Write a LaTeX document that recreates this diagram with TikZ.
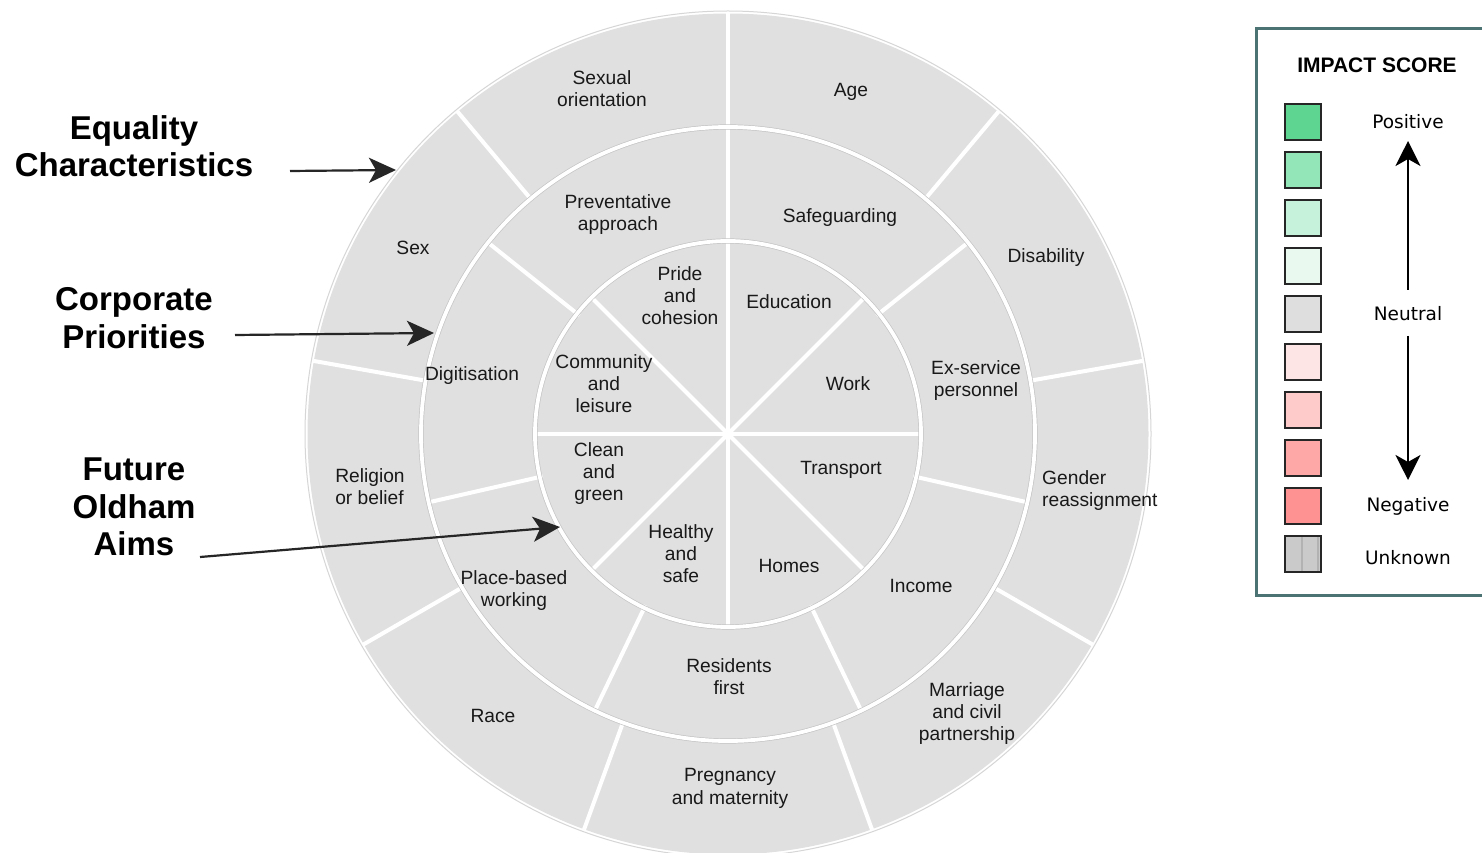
\documentclass[tikz,border=0pt]{standalone}
\usepackage{fontspec}
\setmainfont{Liberation Sans}
\newfontfamily\legendfont{DejaVu Sans}
\usetikzlibrary{arrows.meta}
\definecolor{ringgray}{HTML}{E0E0E0}
\definecolor{edgegray}{HTML}{C4C4C4}
\definecolor{boxteal}{HTML}{4B7373}
\definecolor{pos1}{HTML}{5ED590}
\definecolor{pos2}{HTML}{93E6B8}
\definecolor{pos3}{HTML}{C6F1DB}
\definecolor{pos4}{HTML}{EAF9F0}
\definecolor{neut}{HTML}{DEDEDE}
\definecolor{neg1}{HTML}{FEE5E5}
\definecolor{neg2}{HTML}{FECACA}
\definecolor{neg3}{HTML}{FEA8A8}
\definecolor{neg4}{HTML}{FE9191}
\definecolor{unk}{HTML}{CACACA}
\begin{document}
\begin{tikzpicture}[x=1pt,y=1pt,
  lbl/.style={align=center, font=\fontsize{19.2}{22.3}\selectfont, inner sep=0pt, text=black!90, yshift=-1.5pt},
  head/.style={align=center, font=\fontsize{33}{37.5}\selectfont\bfseries, inner sep=0pt},
  pointer/.style={line width=2.2pt, draw=black!85, -{Stealth[length=27pt,width=25pt,inset=7pt]}},
  legarrow/.style={line width=2.6pt, draw=black, -{Stealth[length=25pt,width=25pt,inset=7pt]}},
  divider/.style={draw=white, line width=4pt},
  ringedge/.style={draw=edgegray, line width=5.2pt},
  ringline/.style={draw=white, line width=3.8pt},
  swatch/.style={draw=black!85, line width=2.2pt, minimum size=36pt, inner sep=0pt},
  legtext/.style={font=\legendfont\fontsize{18.5}{22}\selectfont, inner sep=0pt}
]
\useasboundingbox (0,0) rectangle (1482,852);
\fill[white] (0,0) rectangle (1482,852);

% ---------- wheel ----------
\coordinate (c) at (728,418);
\draw[draw=edgegray!70, line width=1pt] (c) circle (423);
\fill[ringgray] (c) circle (420.5);

% inner dividers (8 sectors)
\foreach \a in {0,45,...,315}
  \draw[divider] (c) -- ([shift={(\a:193)}]c);
% middle ring dividers (7 sectors)
\foreach \k [evaluate=\k as \a using 90-\k*360/7] in {0,...,6}
  \draw[divider] ([shift={(\a:190)}]c) -- ([shift={(\a:309)}]c);
% outer ring dividers (9 sectors)
\foreach \k [evaluate=\k as \a using 90-40*\k] in {0,...,8}
  \draw[divider] ([shift={(\a:305)}]c) -- ([shift={(\a:421)}]c);

% ring boundaries
\draw[ringedge] (c) circle (193);
\draw[ringline] (c) circle (193);
\draw[ringedge] (c) circle (307);
\draw[ringline] (c) circle (307);

% outer ring labels
\node[lbl] (sexor) at (602,765) {Sexual\\orientation};
\node[lbl] (age) at (851,762) {Age};
\node[lbl] (disab) at (1046,596) {Disability};
\node[lbl, anchor=west, align=left] (gender) at (1042,363) {Gender\\reassignment};
\node[lbl] (marr) at (967,140) {Marriage\\and civil\\partnership};
\node[lbl] (preg) at (730,65) {Pregnancy\\and maternity};
\node[lbl] (race) at (493,138) {Race};
\node[lbl, align=left] (relig) at (370,367) {Religion\\or belief};
\node[lbl] (sex) at (413,606) {Sex};

% middle ring labels
\node[lbl] (prev) at (618,639) {Preventative\\approach};
\node[lbl] (safe) at (840,636) {Safeguarding};
\node[lbl] (exserv) at (976,473) {Ex-service\\personnel};
\node[lbl] (income) at (921,268) {Income};
\node[lbl] (resid) at (729,177) {Residents\\first};
\node[lbl] (place) at (514,263) {Place-based\\working};
\node[lbl] (digit) at (472,478) {Digitisation};

% inner labels
\node[lbl] (pride) at (680,558) {Pride\\and\\cohesion};
\node[lbl] (educ) at (789,552) {Education};
\node[lbl] (work) at (848,470) {Work};
\node[lbl] (transp) at (841,384) {Transport};
\node[lbl] (homes) at (789,288) {Homes};
\node[lbl] (healthy) at (681,300) {Healthy\\and\\safe};
\node[lbl] (clean) at (599,380) {Clean\\and\\green};
\node[lbl] (commun) at (604,470) {Community\\and\\leisure};

% ---------- left headings and pointers ----------
\node[head] (eqhead) at (134,706) {Equality\\Characteristics};
\node[head] (cphead) at (134,534) {Corporate\\Priorities};
\node[head] (fohead) at (134,345) {Future\\Oldham\\Aims};

\coordinate (eqs) at (290,681);
\coordinate (eqt) at (396,682);
\coordinate (cps) at (235,517);
\coordinate (cpt) at (434,519);
\coordinate (fos) at (200,295);
\coordinate (fot) at (560,325);
\draw[pointer] (eqs) -- (eqt);
\draw[pointer] (cps) -- (cpt);
\draw[pointer] (fos) -- (fot);

% ---------- legend ----------
\draw[draw=boxteal, line width=3pt] (1256,257) rectangle (1500,823);
\node[font=\fontsize{21}{24}\selectfont\bfseries, inner sep=0pt] (ltitle) at (1377,787) {IMPACT SCORE};

\node[swatch, fill=pos1] (s1) at (1303,730) {};
\node[swatch, fill=pos2] (s2) at (1303,682) {};
\node[swatch, fill=pos3] (s3) at (1303,634) {};
\node[swatch, fill=pos4] (s4) at (1303,586) {};
\node[swatch, fill=neut] (s5) at (1303,538) {};
\node[swatch, fill=neg1] (s6) at (1303,490) {};
\node[swatch, fill=neg2] (s7) at (1303,442) {};
\node[swatch, fill=neg3] (s8) at (1303,394) {};
\node[swatch, fill=neg4] (s9) at (1303,346) {};
\node[swatch, fill=unk] (s10) at (1303,298) {};
\draw[draw=black!30, line width=1.3pt] ([xshift=-1pt]s10.south) -- ([xshift=-1pt]s10.north);
\draw[draw=black!30, line width=1.3pt] ([xshift=15pt]s10.south) -- ([xshift=15pt]s10.north);
\node[swatch] (s10b) at (1303,298) {};

\node[legtext] (lpos) at (1408,730) {Positive};
\node[legtext] (lneu) at (1408,538) {Neutral};
\node[legtext] (lneg) at (1408,346) {Negative};
\node[legtext] (lunk) at (1408,294) {Unknown};

\coordinate (upa) at (1408,562);
\coordinate (upb) at (1408,711);
\coordinate (dna) at (1408,516);
\coordinate (dnb) at (1408,372);
\draw[legarrow] (upa) -- (upb);
\draw[legarrow] (dna) -- (dnb);
\end{tikzpicture}
\end{document}
